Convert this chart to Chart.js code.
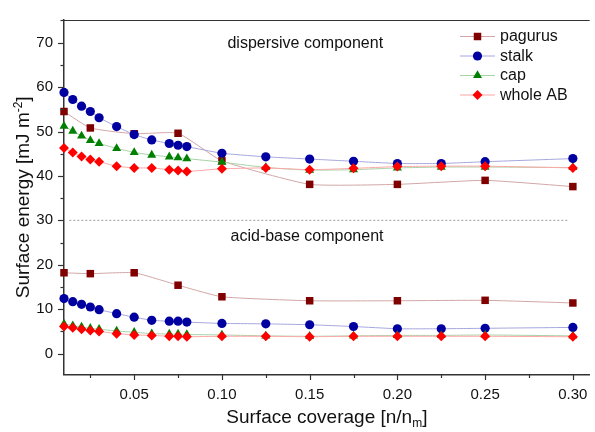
<!DOCTYPE html>
<html>
<head>
<meta charset="utf-8">
<title>Surface energy vs surface coverage</title>
<style>
  html, body { margin: 0; padding: 0; background: #ffffff; overflow: hidden; }
  canvas { display: block; }
</style>
<script src="https://cdn.jsdelivr.net/npm/chart.js@4/dist/chart.umd.min.js"></script>
</head>
<body>
<canvas id="chart" width="595" height="432"></canvas>
<script>
// Surface coverage values [n/n_m]
const coverage = [0.01, 0.015, 0.02, 0.025, 0.03, 0.04, 0.05, 0.06, 0.07, 0.075, 0.08,
                  0.10, 0.125, 0.15, 0.175, 0.20, 0.225, 0.25, 0.30];
const coveragePagurus = [0.01, 0.025, 0.05, 0.075, 0.10, 0.15, 0.20, 0.25, 0.30];

// Dispersive component [mJ m^-2]
const pagurusDispersive = [54.5, 50.8, 49.5, 49.6, 43.4, 38.1, 38.1, 39.0, 37.6];
const stalkDispersive   = [58.8, 57.2, 55.7, 54.5, 53.1, 51.1, 49.3, 48.1, 47.3, 46.9, 46.6,
                           45.1, 44.3, 43.8, 43.3, 42.8, 42.8, 43.2, 43.9];
const capDispersive     = [51.2, 50.1, 49.0, 48.0, 47.3, 46.2, 45.3, 44.7, 44.3, 44.1, 43.9,
                           43.1, 41.9, 41.3, 41.4, 41.8, 42.0, 42.0, 41.9];
const wholeDispersive   = [46.3, 45.3, 44.4, 43.7, 43.2, 42.2, 41.8, 41.8, 41.4, 41.2, 41.0,
                           41.6, 41.8, 41.4, 41.7, 42.1, 42.2, 42.2, 41.8];

// Acid-base component [mJ m^-2]
const pagurusAcidBase = [18.2, 18.0, 18.2, 15.4, 12.8, 11.9, 11.9, 12.0, 11.4];
const stalkAcidBase   = [12.4, 11.7, 11.1, 10.5, 9.9, 9.0, 8.2, 7.5, 7.3, 7.3, 7.1,
                         6.8, 6.7, 6.5, 6.1, 5.6, 5.6, 5.7, 5.9];
const capAcidBase     = [6.7, 6.3, 6.0, 5.7, 5.5, 5.1, 4.8, 4.5, 4.4, 4.4, 4.3,
                         4.2, 4.0, 3.9, 4.0, 4.1, 4.1, 4.2, 4.0];
const wholeAcidBase   = [6.1, 5.8, 5.5, 5.2, 5.0, 4.5, 4.2, 4.1, 3.9, 3.9, 3.8,
                         3.9, 3.9, 3.8, 3.9, 3.9, 3.9, 3.9, 3.8];

// Dotted separator between the two components
const dividerCoverage = [0.013, 0.298];
const dividerLevel = [30, 30];

// Axis ticks and labels
const yTicks = [0, 10, 20, 30, 40, 50, 60, 70];
const xTicks = [0.05, 0.10, 0.15, 0.20, 0.25, 0.30];
const seriesNames = ['pagurus', 'stalk', 'cap', 'whole AB'];
const componentLabels = ['dispersive component', 'acid-base component'];
const componentLabelAt = [[0.1475, 69.8], [0.1485, 26.3]];

const FONT = 'Arial, "Liberation Sans", sans-serif';

const seriesStyle = [
  { marker: '#800000', line: '#d2a6a6', shape: 'rect',     radius: 5.3, order: 4 },
  { marker: '#0000a0', line: '#a6a6de', shape: 'circle',   radius: 4.6, order: 3 },
  { marker: '#008000', line: '#a6d2a6', shape: 'triangle', radius: 5.2, order: 2 },
  { marker: '#ff0000', line: '#ffa6a6', shape: 'rectRot',  radius: 5.0, order: 1 }
];

function points(xs, ys) {
  return xs.map((x, i) => ({ x: x, y: ys[i] }));
}

function seriesDataset(index, xs, ys) {
  const s = seriesStyle[index];
  return {
    label: seriesNames[index],
    data: points(xs, ys),
    borderColor: s.line,
    backgroundColor: s.marker,
    borderWidth: 1,
    tension: 0.15,
    pointStyle: s.shape,
    pointRadius: s.radius,
    pointBackgroundColor: s.marker,
    pointBorderColor: s.marker,
    pointBorderWidth: 0,
    clip: false,
    order: s.order
  };
}

const datasets = [
  seriesDataset(0, coveragePagurus, pagurusDispersive),
  seriesDataset(1, coverage, stalkDispersive),
  seriesDataset(2, coverage, capDispersive),
  seriesDataset(3, coverage, wholeDispersive),
  seriesDataset(0, coveragePagurus, pagurusAcidBase),
  seriesDataset(1, coverage, stalkAcidBase),
  seriesDataset(2, coverage, capAcidBase),
  seriesDataset(3, coverage, wholeAcidBase),
  {
    label: 'divider',
    data: points(dividerCoverage, dividerLevel),
    borderColor: '#a0a0a0',
    borderWidth: 1,
    borderDash: [2, 2],
    pointRadius: 0,
    tension: 0,
    order: 10
  }
];

// Draws a run of text pieces (normal / superscript / subscript) starting at x
function drawRich(ctx, parts, x, y, size) {
  let cx = x;
  parts.forEach(p => {
    const fs = p.kind ? size * 0.63 : size;
    ctx.font = fs + 'px ' + FONT;
    let dy = 0;
    if (p.kind === 'sup') dy = -size * 0.38;
    if (p.kind === 'sub') dy = size * 0.22;
    ctx.fillText(p.text, cx, y + dy);
    cx += ctx.measureText(p.text).width;
  });
}
function richWidth(ctx, parts, size) {
  let w = 0;
  parts.forEach(p => {
    ctx.font = (p.kind ? size * 0.63 : size) + 'px ' + FONT;
    w += ctx.measureText(p.text).width;
  });
  return w;
}

function drawMarker(ctx, shape, r, x, y, color) {
  ctx.save();
  ctx.fillStyle = color;
  ctx.beginPath();
  if (shape === 'rect') {
    const h = r * Math.SQRT1_2;
    ctx.rect(x - h, y - h, 2 * h, 2 * h);
  } else if (shape === 'circle') {
    ctx.arc(x, y, r, 0, Math.PI * 2);
  } else if (shape === 'triangle') {
    for (let k = 0; k < 3; k++) {
      const a = k * 2 * Math.PI / 3;
      const px = x + Math.sin(a) * r, py = y - Math.cos(a) * r;
      if (k === 0) ctx.moveTo(px, py); else ctx.lineTo(px, py);
    }
    ctx.closePath();
  } else {
    ctx.moveTo(x, y - r); ctx.lineTo(x + r, y); ctx.lineTo(x, y + r); ctx.lineTo(x - r, y);
    ctx.closePath();
  }
  ctx.fill();
  ctx.restore();
}

const frame = {
  id: 'frame',
  afterDraw(chart) {
    const ctx = chart.ctx;
    const area = chart.chartArea;
    const xs = chart.scales.x, ys = chart.scales.y;
    ctx.save();

    // top frame line
    ctx.strokeStyle = '#333333';
    ctx.lineWidth = 1.2;
    ctx.beginPath();
    ctx.moveTo(area.left, area.top + 0.5);
    ctx.lineTo(area.right, area.top + 0.5);
    ctx.stroke();

    // tick marks: majors on labelled values, minors halfway between
    ctx.lineWidth = 1.2;
    ctx.strokeStyle = '#333333';
    const yStep = yTicks[1] - yTicks[0];
    yTicks.forEach(v => {
      const py = Math.round(ys.getPixelForValue(v)) + 0.5;
      ctx.beginPath(); ctx.moveTo(area.left - 6, py); ctx.lineTo(area.left, py); ctx.stroke();
      const m = ys.getPixelForValue(v + yStep / 2);
      if (m > area.top) {
        const pm = Math.round(m) + 0.5;
        ctx.beginPath(); ctx.moveTo(area.left - 3.5, pm); ctx.lineTo(area.left, pm); ctx.stroke();
      }
    });
    const xStep = xTicks[1] - xTicks[0];
    xTicks.forEach(v => {
      const px = Math.round(xs.getPixelForValue(v)) + 0.5;
      ctx.beginPath(); ctx.moveTo(px, area.bottom); ctx.lineTo(px, area.bottom + 5.5); ctx.stroke();
      const m = xs.getPixelForValue(v - xStep / 2);
      if (m > area.left) {
        const pm = Math.round(m) + 0.5;
        ctx.beginPath(); ctx.moveTo(pm, area.bottom); ctx.lineTo(pm, area.bottom + 3.5); ctx.stroke();
      }
    });

    // component labels
    ctx.fillStyle = '#111111';
    ctx.font = '16px ' + FONT;
    ctx.textAlign = 'center';
    ctx.textBaseline = 'middle';
    componentLabels.forEach((t, i) => {
      ctx.fillText(t, xs.getPixelForValue(componentLabelAt[i][0]), ys.getPixelForValue(componentLabelAt[i][1]));
    });

    // legend
    const rowY = [36, 55.5, 75, 94.5];
    ctx.textAlign = 'left';
    seriesNames.forEach((name, i) => {
      const s = seriesStyle[i];
      ctx.strokeStyle = s.line;
      ctx.lineWidth = 1;
      ctx.beginPath(); ctx.moveTo(460, rowY[i] + 0.5); ctx.lineTo(495, rowY[i] + 0.5); ctx.stroke();
      drawMarker(ctx, s.shape, s.radius, 477.5, rowY[i] + 0.5, s.marker);
      ctx.fillStyle = '#111111';
      ctx.font = '16px ' + FONT;
      ctx.textBaseline = 'middle';
      ctx.fillText(name, 500, rowY[i] + 1);
    });

    // axis titles
    ctx.fillStyle = '#111111';
    ctx.textAlign = 'left';
    ctx.textBaseline = 'alphabetic';
    const xTitle = [{ text: 'Surface coverage [n/n' }, { text: 'm', kind: 'sub' }, { text: ']' }];
    const xw = richWidth(ctx, xTitle, 19);
    drawRich(ctx, xTitle, (area.left + area.right) / 2 - xw / 2, 423, 19);

    const yTitle = [{ text: 'Surface energy [mJ m' }, { text: '-2', kind: 'sup' }, { text: ']' }];
    const yw = richWidth(ctx, yTitle, 19);
    ctx.translate(29, (area.top + area.bottom) / 2);
    ctx.rotate(-Math.PI / 2);
    drawRich(ctx, yTitle, -yw / 2, 0, 19);
    ctx.restore();
  }
};

new Chart(document.getElementById('chart'), {
  type: 'line',
  data: { datasets: datasets },
  options: {
    responsive: false,
    animation: false,
    devicePixelRatio: 1,
    layout: { padding: { top: 16, right: 0, left: 0, bottom: 0 } },
    plugins: { legend: { display: false }, tooltip: { enabled: false } },
    scales: {
      x: {
        type: 'linear',
        min: 0.01,
        max: 0.3096,
        grid: { display: false, drawTicks: false },
        border: { display: true, color: '#333333', width: 1.5 },
        afterBuildTicks: s => { s.ticks = xTicks.map(v => ({ value: v })); },
        afterFit: s => { s.height = 57.5; s.paddingLeft = 0; s.paddingRight = 0; },
        ticks: {
          padding: 11,
          color: '#111111',
          font: { family: FONT, size: 15 },
          maxRotation: 0,
          autoSkip: false,
          callback: v => v.toFixed(2)
        }
      },
      y: {
        type: 'linear',
        min: -4.7,
        max: 75.1,
        grid: { display: false, drawTicks: false },
        border: { display: true, color: '#333333', width: 1.5 },
        afterBuildTicks: s => { s.ticks = yTicks.map(v => ({ value: v })); },
        afterFit: s => { s.width = 64; },
        ticks: {
          padding: 11,
          color: '#111111',
          font: { family: FONT, size: 15 },
          autoSkip: false,
          callback: v => String(v)
        }
      }
    }
  },
  plugins: [frame]
});
</script>
</body>
</html>
